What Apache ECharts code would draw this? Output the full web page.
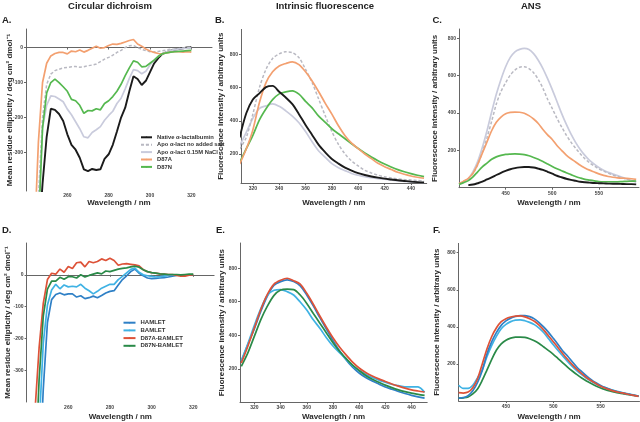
<!DOCTYPE html>
<html><head><meta charset="utf-8">
<script src="https://cdn.jsdelivr.net/npm/echarts@6/dist/echarts.min.js"></script>
<style>html,body{margin:0;padding:0;background:#fff}#c{width:640px;height:422px}</style>
</head><body><div id="c"></div>
<script>
// ---------- Data ----------
// Circular dichroism wavelengths (nm)
const cdX = [244,246,248,250,252,254,256,258,260,262,264,266,268,270,272,274,276,278,280,282,284,286,288,290,292,294,296,298,300,302,304,306,308,310,312,314,316,318,320];
// Panel A
const cdNative   = [null,-560,-390,-255,-175,-178,-190,-210,-248,-278,-292,-315,-348,-353,-347,-350,-348,-318,-305,-278,-240,-200,-172,-125,-82,-90,-107,-95,-70,-45,-30,-18,-13,-9,-6,-4,-2,0,1];
const cdApoNoSalt= [null,-430,-200,-105,-76,-66,-62,-58,-57,-55,-54,-56,-55,-52,-50,-47,-40,-33,-28,-22,-14,-8,0,5,6,0,-5,-9,-12,-13,-11,-9,-7,-5,-4,-3,-1,0,1];
const cdApoNaCl  = [null,-480,-230,-165,-138,-140,-147,-155,-176,-192,-212,-232,-255,-258,-243,-235,-226,-208,-194,-182,-160,-145,-118,-88,-63,-66,-75,-68,-50,-36,-25,-18,-12,-9,-6,-4,-3,-2,-1];
const cdD87A     = [-560,-270,-100,-45,-24,-17,-14,-14,-18,-10,-12,-7,-13,-8,-2,4,-2,0,6,10,9,12,16,20,23,10,4,-4,-10,-14,-17,-18,-15,-13,-12,-12,-13,-12,-13];
const cdD87N     = [null,-520,-230,-130,-100,-90,-100,-112,-125,-148,-152,-165,-188,-180,-181,-175,-178,-160,-152,-140,-125,-105,-80,-58,-38,-42,-55,-54,-45,-36,-25,-18,-15,-13,-12,-11,-10,-9,-8];
// Panel D
const cdHamlet     = [null,-650,-360,-150,-78,-62,-57,-63,-60,-60,-70,-66,-75,-72,-67,-72,-65,-57,-52,-50,-32,-15,-3,10,18,5,-3,-10,-12,-11,-10,-9,-7,-4,-2,null,null,null,null];
const cdBamlet     = [null,-480,-215,-95,-48,-30,-44,-32,-38,-36,-38,-30,-42,-50,-60,-52,-42,-36,-30,-30,-15,-5,6,17,21,8,0,-3,-5,-7,-6,-4,-2,-1,0,null,null,null,null];
const cdD87ABamlet = [-430,-230,-90,-15,5,2,18,8,26,20,38,40,25,42,38,42,50,45,52,45,30,34,35,33,31,28,16,10,7,5,3,2,1,1,-2,-4,-4,-1,1];
const cdD87NBamlet = [-640,-330,-130,-45,-20,-20,-8,-14,-6,-6,-10,0,-7,-2,2,6,3,12,10,14,18,20,22,25,27,24,16,10,7,5,3,2,1,1,1,0,1,2,2];

// Intrinsic fluorescence wavelengths (nm)
const trpX = [310,315,320,325,330,335,340,345,350,355,360,365,370,375,380,385,390,395,400,405,410,415,420,425,430,435,440,445,450];
// Panel B
const trpNative    = [300,445,528,565,603,610,575,540,500,440,375,315,255,210,170,142,118,100,85,74,65,58,52,47,42,38,34,31,29];
const trpApoNoSalt = [230,300,440,600,710,775,803,815,810,780,710,630,530,430,335,258,200,158,128,102,86,73,63,56,51,47,44,41,38];
const trpApoNaCl   = [250,330,415,475,490,502,487,460,428,388,335,274,218,180,142,118,100,83,72,63,57,52,48,44,39,35,32,30,27];
const trpD87A      = [140,230,345,510,630,695,730,745,755,738,695,640,575,505,440,370,310,265,232,200,172,144,124,107,90,78,68,60,54];
const trpD87N      = [150,232,312,405,472,527,562,574,580,560,517,478,428,390,352,322,292,262,233,206,182,160,140,122,106,93,82,72,64];
// Panel E
const trpHamlet     = [245,345,440,545,635,698,720,730,720,695,640,575,505,437,370,308,255,210,175,148,128,110,92,78,65,53,42,33,26];
const trpBamlet     = [250,350,460,560,640,668,672,660,640,598,550,492,442,385,336,296,258,218,190,168,148,133,120,108,100,92,93,92,60];
const trpD87ABamlet = [235,335,445,555,645,705,728,740,725,705,650,585,515,448,385,330,283,240,205,178,157,140,125,110,97,85,75,68,62];
const trpD87NBamlet = [215,295,395,495,575,638,670,675,672,640,590,530,472,414,356,305,262,222,190,160,138,120,103,88,75,64,55,48,42];

// ANS fluorescence wavelengths (nm)
const ansX = [400,405,410,415,420,425,430,435,440,445,450,455,460,465,470,475,480,485,490,495,500,505,510,515,520,525,530,535,540,545,550,555,560,565,570,575,580,585,590];
// Panel C
const ansNative    = [null,null,14,17,24,32,44,55,68,80,90,99,105,109,111,111,108,102,95,85,75,64,56,48,42,37,32,29,27,25,24,23,22,21,21,20,19,19,18];
const ansApoNoSalt = [20,33,48,77,122,190,268,355,448,515,562,603,630,645,648,638,616,580,532,474,424,372,326,282,244,212,182,155,133,116,100,89,78,68,60,53,45,38,33];
const ansApoNaCl   = [20,32,48,86,140,215,305,405,500,580,648,698,728,741,746,740,718,683,638,584,525,462,398,340,288,243,205,173,146,126,108,94,82,73,65,56,47,38,30];
const ansD87A      = [22,35,50,77,125,185,245,305,350,378,396,403,405,404,399,386,368,344,312,283,258,226,200,175,155,138,120,106,94,84,74,66,60,56,53,51,50,48,45];
const ansD87N      = [18,27,38,58,85,112,132,152,165,173,178,180,181,180,177,171,162,152,140,127,114,102,91,80,70,60,52,45,41,37,33,32,32,32,32,33,34,35,36];
// Panel F
const ansHamlet     = [15,18,28,55,100,165,255,320,370,408,432,447,456,461,460,455,443,423,398,370,338,305,270,243,212,182,158,135,115,98,84,72,62,54,47,41,36,31,26];
const ansBamlet     = [85,68,68,85,125,168,240,300,350,390,413,428,436,438,433,424,412,393,368,336,303,272,243,214,187,163,142,123,107,92,80,71,63,55,49,43,38,32,27];
const ansD87ABamlet = [45,43,48,72,120,200,282,348,395,428,444,453,458,459,454,444,430,409,382,351,320,287,255,225,196,170,148,127,109,94,80,69,60,52,46,41,35,30,25];
const ansD87NBamlet = [15,17,22,38,65,112,168,225,275,308,328,339,344,345,343,336,325,310,291,272,252,229,206,183,162,142,124,108,94,81,70,61,54,47,42,38,34,30,26];

// Tick labels
const cdXTicks = [260,280,300,320];
const cdYTicks = [-300,-200,-100,0];
const trpXTicks = [320,340,360,380,400,420,440];
const flYTicks = [200,400,600,800];
const ansXTicks = [450,500,550];

const namesTop = ['Native α-lactalbumin','Apo α-lact no added salt','Apo α-lact 0.15M NaCl','D87A','D87N'];
const namesBottom = ['HAMLET','BAMLET','D87A-BAMLET','D87N-BAMLET'];

// ---------- Styling ----------
const FONT = 'Liberation Sans, Arial, Helvetica, sans-serif';
const C = {
  native:'#1b1b1b', apoNo:'#b9b9c2', apoNaCl:'#c9cbdc', d87a:'#f3a070', d87n:'#55b84f',
  hamlet:'#2f80c6', bamlet:'#3fb2e4', d87aB:'#dd5238', d87nB:'#2a8a48'
};
const YNAME_CD = 'Mean residue ellipticity / deg cm² dmol⁻¹';
const YNAME_FL = 'Fluorescence intensity / arbitrary units';

function pairs(xs, ys){ return xs.map((x,i)=>[x, ys[i]]); }

function xAxisCfg(grid, min, max, ticks, gap, margin){
  return {type:'value', gridIndex:grid, min:min, max:max,
    name:'Wavelength / nm', nameLocation:'middle', nameGap:gap, nameMoveOverlap:false,
    nameTextStyle:{fontSize:8, fontWeight:'bold', color:'#2a2a2a', fontFamily:FONT},
    axisLine:{show:true, lineStyle:{color:'#666', width:1}},
    axisTick:{show:true, length:2, customValues:ticks, lineStyle:{color:'#666'}},
    axisLabel:{show:true, customValues:ticks, fontSize:5, fontWeight:'bold', color:'#444', margin:(margin==null?3:margin), fontFamily:FONT},
    splitLine:{show:false}};
}
function yAxisCfg(grid, min, max, ticks, name, gap){
  return {type:'value', gridIndex:grid, min:min, max:max,
    name:name, nameLocation:'middle', nameGap:gap, nameMoveOverlap:false,
    nameTextStyle:{fontSize:8, fontWeight:'bold', color:'#2a2a2a', fontFamily:FONT},
    axisLine:{show:true, lineStyle:{color:'#666', width:1}},
    axisTick:{show:true, length:2, customValues:ticks, lineStyle:{color:'#666'}},
    axisLabel:{show:true, customValues:ticks, fontSize:5, fontWeight:'bold', color:'#444', margin:3, fontFamily:FONT},
    splitLine:{show:false}};
}
function line(name, grid, xs, ys, color, extra){
  const s = {type:'line', name:name, xAxisIndex:grid, yAxisIndex:grid, data:pairs(xs, ys),
    showSymbol:false, symbol:'none', connectNulls:false, clip:true, silent:true,
    lineStyle:{color:color, width:1.7}, itemStyle:{color:color}};
  return Object.assign(s, extra||{});
}
const dashed = {lineStyle:{color:C.apoNo, width:1.5, type:[3,2]}};
const blackStyle = {lineStyle:{color:C.native, width:1.9}};
const sm = {smooth:0.3};

const option = {
  animation:false,
  backgroundColor:'#ffffff',
  textStyle:{fontFamily:FONT},
  grid:[
    {left:26, top:29, width:186, height:162},
    {left:241, top:29.4, width:185.7, height:153.7},
    {left:459, top:29, width:180, height:158.7},
    {left:26.6, top:243, width:187.5, height:159},
    {left:240, top:243, width:187.2, height:159.4},
    {left:458.6, top:243.4, width:180.9, height:157.7}
  ],
  xAxis:[
    xAxisCfg(0, 240, 330, cdXTicks, 8, 2),
    xAxisCfg(1, 311, 452, trpXTicks, 16),
    xAxisCfg(2, 400, 593, ansXTicks, 11),
    xAxisCfg(3, 240, 330, cdXTicks, 11),
    xAxisCfg(4, 309, 452, trpXTicks, 10),
    xAxisCfg(5, 400, 591, ansXTicks, 12)
  ],
  yAxis:[
    yAxisCfg(0, -410, 53, cdYTicks, YNAME_CD, 12),
    yAxisCfg(1, 25, 950, flYTicks, YNAME_FL, 16),
    yAxisCfg(2, 0, 850, flYTicks, YNAME_FL, 20),
    yAxisCfg(3, -400, 100, cdYTicks, YNAME_CD, 15),
    yAxisCfg(4, 0, 950, flYTicks, YNAME_FL, 14),
    yAxisCfg(5, 0, 850, flYTicks, YNAME_FL, 18)
  ],
  legend:[
    {data:namesTop, left:140, top:134.3, padding:0, orient:'vertical', itemWidth:11, itemHeight:2, itemGap:1.4,
     selectedMode:false, textStyle:{fontSize:5.8, fontWeight:'bold', color:'#333', fontFamily:FONT}},
    {data:namesBottom, left:122.5, top:319.7, padding:0, orient:'vertical', itemWidth:12, itemHeight:2, itemGap:1.7,
     selectedMode:false, textStyle:{fontSize:6, fontWeight:'bold', color:'#333', fontFamily:FONT}}
  ],
  series:[
    // A
    line(namesTop[0], 0, cdX, cdNative, C.native, blackStyle),
    line(namesTop[1], 0, cdX, cdApoNoSalt, C.apoNo, dashed),
    line(namesTop[2], 0, cdX, cdApoNaCl, C.apoNaCl),
    line(namesTop[3], 0, cdX, cdD87A, C.d87a),
    line(namesTop[4], 0, cdX, cdD87N, C.d87n),
    // B
    line(namesTop[2], 1, trpX, trpApoNaCl, C.apoNaCl, sm),
    line(namesTop[1], 1, trpX, trpApoNoSalt, C.apoNo, Object.assign({}, dashed, sm)),
    line(namesTop[4], 1, trpX, trpD87N, C.d87n, sm),
    line(namesTop[3], 1, trpX, trpD87A, C.d87a, sm),
    line(namesTop[0], 1, trpX, trpNative, C.native, Object.assign({}, blackStyle, sm)),
    // C
    line(namesTop[2], 2, ansX, ansApoNaCl, C.apoNaCl, sm),
    line(namesTop[1], 2, ansX, ansApoNoSalt, C.apoNo, Object.assign({}, dashed, sm)),
    line(namesTop[3], 2, ansX, ansD87A, C.d87a, sm),
    line(namesTop[4], 2, ansX, ansD87N, C.d87n, sm),
    line(namesTop[0], 2, ansX, ansNative, C.native, Object.assign({}, blackStyle, sm)),
    // D
    line(namesBottom[0], 3, cdX, cdHamlet, C.hamlet),
    line(namesBottom[1], 3, cdX, cdBamlet, C.bamlet),
    line(namesBottom[2], 3, cdX, cdD87ABamlet, C.d87aB),
    line(namesBottom[3], 3, cdX, cdD87NBamlet, C.d87nB),
    // E
    line(namesBottom[0], 4, trpX, trpHamlet, C.hamlet, sm),
    line(namesBottom[1], 4, trpX, trpBamlet, C.bamlet, sm),
    line(namesBottom[3], 4, trpX, trpD87NBamlet, C.d87nB, sm),
    line(namesBottom[2], 4, trpX, trpD87ABamlet, C.d87aB, sm),
    // F
    line(namesBottom[3], 5, ansX, ansD87NBamlet, C.d87nB, sm),
    line(namesBottom[1], 5, ansX, ansBamlet, C.bamlet, sm),
    line(namesBottom[0], 5, ansX, ansHamlet, C.hamlet, sm),
    line(namesBottom[2], 5, ansX, ansD87ABamlet, C.d87aB, sm)
  ],
  graphic:[
    {type:'text', x:110, y:6, style:{text:'Circular dichroism', fontSize:9.5, fontWeight:'bold', fontFamily:FONT, fill:'#222', align:'center', verticalAlign:'middle'}},
    {type:'text', x:325, y:6, style:{text:'Intrinsic fluorescence', fontSize:9.5, fontWeight:'bold', fontFamily:FONT, fill:'#222', align:'center', verticalAlign:'middle'}},
    {type:'text', x:531, y:6, style:{text:'ANS', fontSize:9.5, fontWeight:'bold', fontFamily:FONT, fill:'#222', align:'center', verticalAlign:'middle'}},
    {type:'text', x:2, y:20.5, style:{text:'A.', fontSize:9.5, fontWeight:'bold', fontFamily:FONT, fill:'#222', align:'left', verticalAlign:'middle'}},
    {type:'text', x:215, y:20.5, style:{text:'B.', fontSize:9.5, fontWeight:'bold', fontFamily:FONT, fill:'#222', align:'left', verticalAlign:'middle'}},
    {type:'text', x:432.5, y:20.5, style:{text:'C.', fontSize:9.5, fontWeight:'bold', fontFamily:FONT, fill:'#222', align:'left', verticalAlign:'middle'}},
    {type:'text', x:2, y:230.5, style:{text:'D.', fontSize:9.5, fontWeight:'bold', fontFamily:FONT, fill:'#222', align:'left', verticalAlign:'middle'}},
    {type:'text', x:216, y:230, style:{text:'E.', fontSize:9.5, fontWeight:'bold', fontFamily:FONT, fill:'#222', align:'left', verticalAlign:'middle'}},
    {type:'text', x:433, y:230, style:{text:'F.', fontSize:9.5, fontWeight:'bold', fontFamily:FONT, fill:'#222', align:'left', verticalAlign:'middle'}}
  ]
};
const chart = echarts.init(document.getElementById('c'), null, {renderer:'canvas'});
chart.setOption(option);
</script>
</body></html>
